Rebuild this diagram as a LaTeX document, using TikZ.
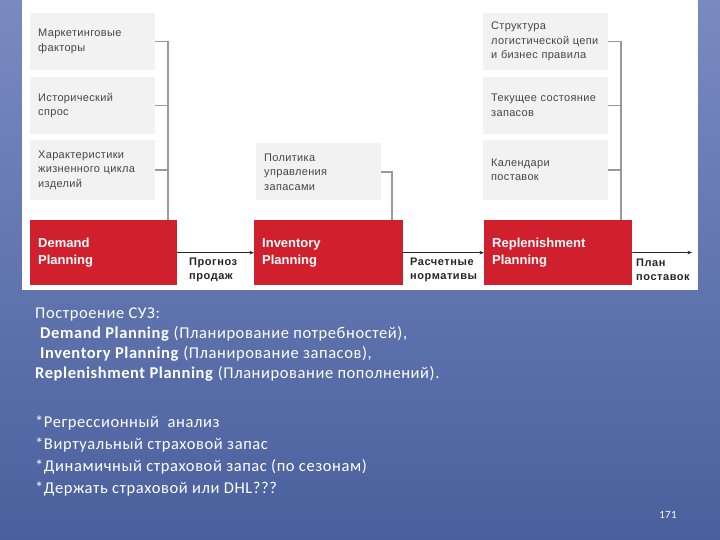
\documentclass[tikz,border=0pt]{standalone}
\usepackage{fontspec}
\setmainfont{Liberation Sans}
\newfontfamily\slidefont[LetterSpace=3.5]{Carlito}
\newfontfamily\boxfont[LetterSpace=3]{Liberation Sans}
\newfontfamily\lblfont[LetterSpace=5]{Liberation Sans}
\usepackage{tikz}
\usetikzlibrary{arrows.meta, calc}

\definecolor{slidetop}{RGB}{121,138,192}
\definecolor{slidebot}{RGB}{74,96,158}
\definecolor{planred}{RGB}{208,32,46}
\definecolor{boxgray}{RGB}{242,242,242}
\definecolor{boxtext}{RGB}{70,70,70}

\begin{document}
\begin{tikzpicture}[
            x=1pt, y=-1pt,
            >={Stealth[length=4.5pt, width=3.5pt]},
            factor/.style={fill=boxgray, anchor=west, text width=109pt, minimum height=57pt, inner xsep=8pt, inner ysep=0pt, align=left, text=boxtext, font=\boxfont\fontsize{11}{14.5}\selectfont},
            plan/.style={fill=planred, anchor=north west, text width=132pt, minimum height=65pt, inner xsep=8pt, inner ysep=0pt, align=left, text=white, font=\bfseries\fontsize{13}{17}\selectfont},
            bus/.style={draw=gray!80, line width=1.2pt},
            flow/.style={->, black!85, line width=0.8pt},
            lbl/.style={anchor=west, inner sep=0pt, align=left, text=black!85, font=\lblfont\bfseries\fontsize{11}{14}\selectfont},
            slide/.style={anchor=north west, inner sep=0pt, align=left, text=white, font=\slidefont\fontsize{16.5}{20}\selectfont}
        ]

        % 1. X-coordinates of the three columns
        \def\xA{30}
        \def\xB{254}
        \def\xC{483}

        % 2. Y-coordinates (centres of the input boxes, top of the plan row)
        \def\yA{41.5}
        \def\yB{105.5}
        \def\yC{170}
        \def\yP{220}

        % 3. Slide background and white panel
        \shade[top color=slidetop, bottom color=slidebot] (0,0) rectangle (720,540);
        \fill[white] (22,0) rectangle (698,290);

        % --- INPUT BOXES ---
        \node[factor] (mkt) at (\xA, \yA) {Маркетинговые\\факторы};
        \node[factor] (hist) at (\xA, \yB) {Исторический\\спрос};
        \node[factor, minimum height=60pt] (life) at (\xA, \yC) {Характеристики\\жизненного цикла\\изделий};

        \node[factor] (pol) at (\xB+2, 172) {Политика\\управления\\запасами};

        \node[factor] (net) at (\xC, \yA) {Структура\\логистической цепи\\и бизнес правила};
        \node[factor] (stock) at (\xC, \yB) {Текущее состояние\\запасов};
        \node[factor, minimum height=60pt] (cal) at (\xC, \yC) {Календари\\поставок};

        % --- PLANNING BOXES ---
        \node[plan, text width=131pt] (dp) at (\xA, \yP) {Demand\\Planning};
        \node[plan, text width=133pt] (ip) at (\xB, \yP) {Inventory\\Planning};
        \node[plan] (rp) at (\xC+1, \yP) {Replenishment\\Planning};

        % Bus lines into the plans
        \coordinate (busL) at (168,0);
        \coordinate (busM) at (392,0);
        \coordinate (busR) at (621,0);

        \draw[bus] (mkt.east) -| (busL |- dp.north);
        \draw[bus] (hist.east) -- (hist.east -| busL);
        \draw[bus] (life.east) -- (life.east -| busL);

        \draw[bus] (pol.east) -| (busM |- ip.north);

        \draw[bus] (net.east) -| (busR |- rp.north);
        \draw[bus] (stock.east) -- (stock.east -| busR);
        \draw[bus] (cal.east) -- (cal.east -| busR);

        % --- FLOW BETWEEN PLANS ---
        \coordinate (schedend) at (692, 252.5);
        \draw[flow] (dp) -- (ip);
        \draw[flow] (ip) -- (rp);
        \draw[flow] (rp) -- (schedend);

        \node[lbl] (fcast) at (189, 269.5) {Прогноз\\продаж};
        \node[lbl] (norms) at (410, 269.5) {Расчетные\\нормативы};
        \node[lbl] (sched) at (636, 269.5) {План\\поставок};

        % --- SLIDE TEXT ---
        \node[slide] (build) at (35, 308) {Построение СУЗ:\\
            \hspace*{5pt}\textbf{Demand Planning} (Планирование потребностей),\\
            \hspace*{5pt}\textbf{Inventory Planning} (Планирование запасов),\\
            \textbf{Replenishment Planning} (Планирование пополнений).};

        \node[slide, font=\slidefont\fontsize{16.5}{21.8}\selectfont] (notes) at (35, 416) {*Регрессионный\ \ анализ\\
            *Виртуальный страховой запас\\
            *Динамичный страховой запас (по сезонам)\\
            *Держать страховой или DHL???};

        \node[text=white, font=\slidefont\fontsize{11}{13}\selectfont] (pagenum) at (668, 515) {171};

        \end{tikzpicture}
\end{document}
